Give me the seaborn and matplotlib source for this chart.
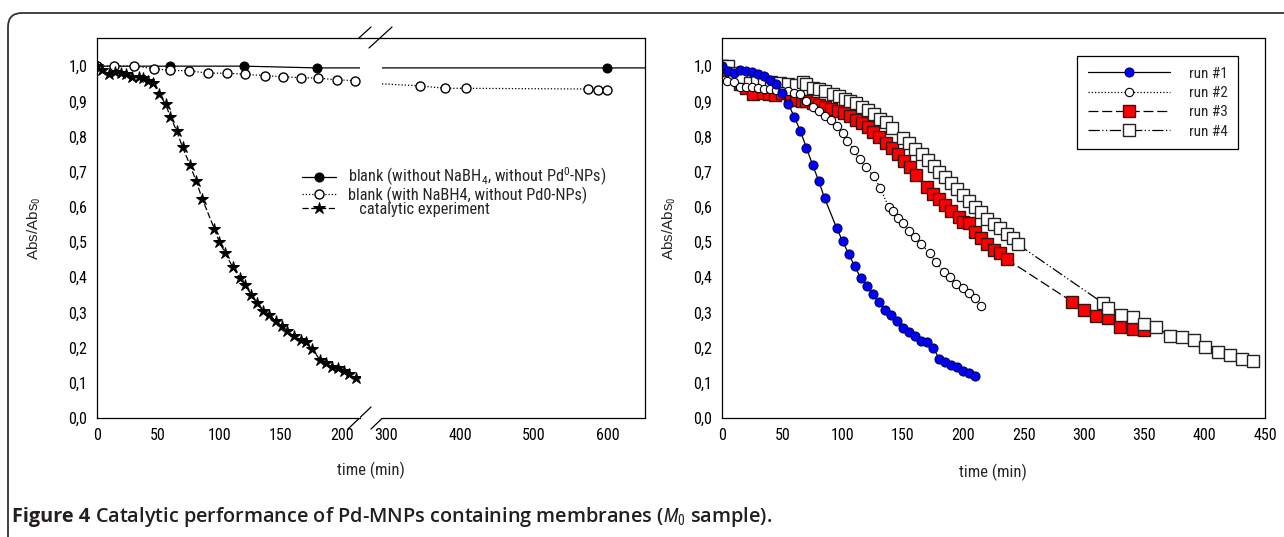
import matplotlib
matplotlib.use("Agg")
import matplotlib.pyplot as plt
import seaborn as sns
from matplotlib.ticker import FuncFormatter, MultipleLocator
from matplotlib.patches import FancyBboxPatch
from matplotlib.lines import Line2D

# ---- left panel data (time in min, Abs/Abs0) ----
blank1_t = [0, 60, 120, 180, 600, 720]
blank1_v = [1.0, 1.0, 1.0, 0.995, 0.995, 0.995]

blank2_t = [0, 14, 30, 47, 60, 75, 91, 106, 121, 137, 152, 167, 181, 196, 211,
            345, 380, 408, 573, 587, 600]
blank2_v = [1.0, 1.0, 1.0, 0.993, 0.988, 0.987, 0.98, 0.98, 0.977, 0.973, 0.97,
            0.967, 0.966, 0.961, 0.959, 0.944, 0.937, 0.937, 0.935, 0.933, 0.933]

cat_t = [0, 4, 10, 15, 20, 24, 29, 34, 38, 42, 46, 51, 56, 60, 65, 70, 76, 81, 86,
         96, 100, 105, 111, 117, 121, 126, 131, 136, 141, 146, 151, 155, 161, 167,
         171, 176, 182, 187, 192, 197, 202, 206, 212]
cat_v = [1.0, 0.988, 0.979, 0.984, 0.981, 0.979, 0.970, 0.968, 0.965, 0.958, 0.951,
         0.921, 0.892, 0.856, 0.817, 0.769, 0.719, 0.674, 0.623, 0.537, 0.500, 0.468,
         0.428, 0.397, 0.377, 0.351, 0.326, 0.305, 0.294, 0.275, 0.261, 0.247, 0.233,
         0.221, 0.217, 0.196, 0.166, 0.155, 0.145, 0.143, 0.133, 0.125, 0.113]

# ---- right panel data: four runs ----
run1_t = [0, 5, 10, 15, 20, 25, 30, 35, 40, 45, 50, 55, 60, 65, 70, 75, 80, 85,
          95, 100, 105, 110, 115, 120, 125, 130, 135, 140, 145, 150, 155, 160, 165,
          170, 175, 180, 185, 190, 195, 200, 205, 210]
run1_v = [1.0, 0.985, 0.98, 0.99, 0.985, 0.982, 0.977, 0.972, 0.962, 0.95, 0.925,
          0.892, 0.855, 0.815, 0.768, 0.72, 0.675, 0.625, 0.54, 0.502, 0.466, 0.431,
          0.398, 0.376, 0.352, 0.329, 0.308, 0.294, 0.277, 0.257, 0.245, 0.234, 0.218,
          0.215, 0.199, 0.169, 0.16, 0.151, 0.144, 0.135, 0.128, 0.118]

run2_t = [0, 4, 10, 15, 20, 25, 30, 35, 40, 45, 50, 55, 60, 65, 70, 75, 80, 85, 90,
          95, 100, 104, 109, 114, 119, 126, 131, 138, 142, 146, 150, 155, 160, 165,
          172, 177, 184, 189, 194, 200, 205, 210, 215]
run2_v = [1.0, 0.957, 0.954, 0.94, 0.942, 0.94, 0.937, 0.935, 0.935, 0.932, 0.93,
          0.928, 0.925, 0.922, 0.901, 0.885, 0.872, 0.857, 0.846, 0.829, 0.809, 0.786,
          0.763, 0.735, 0.712, 0.687, 0.654, 0.601, 0.588, 0.569, 0.555, 0.532, 0.514,
          0.495, 0.468, 0.442, 0.414, 0.40, 0.381, 0.369, 0.354, 0.34, 0.319]

run3_t = [0, 3, 15, 20, 26, 34, 39, 44, 50, 56, 61, 66, 70, 75, 80, 85, 90, 96, 101,
          106, 111, 116, 121, 125, 130, 136, 141, 146, 151, 156, 161, 170, 175, 180,
          185, 190, 196, 200, 205, 210, 215, 220, 225, 230, 236, 290, 300, 310, 320,
          330, 341, 350]
run3_v = [1.0, 0.989, 0.949, 0.938, 0.922, 0.924, 0.92, 0.918, 0.924, 0.912, 0.903,
          0.901, 0.9, 0.894, 0.889, 0.885, 0.878, 0.872, 0.866, 0.857, 0.848, 0.839,
          0.827, 0.814, 0.798, 0.783, 0.768, 0.749, 0.731, 0.712, 0.691, 0.657, 0.638,
          0.623, 0.606, 0.588, 0.571, 0.558, 0.555, 0.53, 0.512, 0.494, 0.477, 0.468,
          0.451, 0.331, 0.307, 0.291, 0.284, 0.259, 0.254, 0.249]

run4_t = [0, 5, 10, 16, 23, 29, 35, 41, 48, 55, 61, 67, 70, 75, 80, 85, 92, 97, 102,
          106, 111, 116, 121, 126, 131, 136, 141, 150, 155, 160, 166, 171, 176, 180,
          185, 190, 195, 200, 205, 210, 215, 220, 225, 230, 236, 241, 245, 316, 320,
          331, 341, 350, 360, 371, 381, 391, 400, 411, 421, 431, 440]
run4_v = [1.0, 1.0, 0.98, 0.97, 0.952, 0.954, 0.955, 0.955, 0.952, 0.949, 0.947,
          0.955, 0.949, 0.938, 0.934, 0.929, 0.92, 0.915, 0.908, 0.901, 0.894, 0.885,
          0.874, 0.863, 0.851, 0.841, 0.823, 0.795, 0.781, 0.765, 0.749, 0.733, 0.717,
          0.70, 0.684, 0.669, 0.652, 0.634, 0.617, 0.601, 0.586, 0.565, 0.551, 0.54,
          0.523, 0.512, 0.494, 0.326, 0.314, 0.292, 0.286, 0.266, 0.259, 0.233, 0.231,
          0.221, 0.203, 0.189, 0.178, 0.169, 0.161]

left_labels = ["blank (without NaBH$_4$, without Pd$^0$-NPs)",
               "blank (with NaBH4, without Pd0-NPs)",
               "   catalytic experiment"]
run_labels = ["run #1", "run #2", "run #3", "run #4"]

sns.set_style("white")
NARROW = ["Roboto Condensed", "DejaVu Sans"]
plt.rcParams["font.family"] = NARROW
plt.rcParams["mathtext.fontset"] = "custom"
plt.rcParams["mathtext.rm"] = "Roboto Condensed"
plt.rcParams["mathtext.it"] = "Roboto Condensed:italic"

W, H = 1284, 537
fig = plt.figure(figsize=(W / 100, H / 100), dpi=100)


def box(l, t, r, b):
    # pixel box -> figure fraction
    return [l / W, 1 - b / H, (r - l) / W, (b - t) / H]


# background frame (pixel coords)
bg = fig.add_axes([0, 0, 1, 1], zorder=-5)
bg.set_xlim(0, W)
bg.set_ylim(H, 0)
bg.axis("off")
bg.add_patch(FancyBboxPatch((8, 13), 1500, 700, boxstyle="round,pad=0,rounding_size=14",
                            lw=1.3, ec="#333333", fc="none"))

ax1 = fig.add_axes(box(97, 38, 360, 418))
ax2 = fig.add_axes(box(382, 38, 645, 418))
ax3 = fig.add_axes(box(722, 38, 1265, 418))


def draw(ax, t, v, label=None, **kw):
    sns.lineplot(x=t, y=v, ax=ax, estimator=None, sort=False, color="k",
                 linewidth=0.9, label=label, legend=False, **kw)


dot = (0, (1, 1.6))
for ax in (ax1, ax2):
    draw(ax, blank1_t, blank1_v, label=left_labels[0], marker="o", markersize=6.5,
         markerfacecolor="k", markeredgecolor="k", linestyle="-")
    draw(ax, blank2_t, blank2_v, label=left_labels[1], marker="o", markersize=6.5,
         markerfacecolor="w", markeredgecolor="k", markeredgewidth=1, linestyle=dot)
draw(ax1, cat_t, cat_v, label=left_labels[2], marker="*", markersize=9,
     markerfacecolor="k", markeredgecolor="k", linestyle=(0, (5, 2)))

draw(ax3, run3_t, run3_v, label=run_labels[2], marker="s", markersize=8.5,
     markerfacecolor="#ff0000", markeredgecolor="#3a1010", markeredgewidth=1,
     linestyle=(0, (8, 3)))
draw(ax3, run4_t, run4_v, label=run_labels[3], marker="s", markersize=9,
     markerfacecolor="w", markeredgecolor="#222222", markeredgewidth=1,
     linestyle=(0, (9, 2, 1, 2, 1, 2)))
draw(ax3, run2_t, run2_v, label=run_labels[1], marker="o", markersize=6,
     markerfacecolor="w", markeredgecolor="k", markeredgewidth=0.8, linestyle=dot)
draw(ax3, run1_t, run1_v, label=run_labels[0], marker="o", markersize=6.5,
     markerfacecolor="#0000ff", markeredgecolor="#000060", markeredgewidth=0.8,
     linestyle="-")

comma = FuncFormatter(lambda v, p: f"{v:.1f}".replace(".", ","))
for ax in (ax1, ax2, ax3):
    ax.set_ylim(0, 1.08)
    ax.set_xlabel("")
    ax.set_ylabel("")
    for s in ax.spines.values():
        s.set_color("k")
        s.set_linewidth(0.9)
    ax.tick_params(direction="out", length=4, width=0.8, labelsize=11.5, pad=3,
                   colors="k")
    ax.yaxis.set_major_locator(MultipleLocator(0.1))
    ax.yaxis.set_major_formatter(comma)

ax1.set_xlim(0, 215)
ax1.set_xticks([0, 50, 100, 150, 200])
ax1.spines["right"].set_visible(False)
ax2.set_xlim(294, 651)
ax2.set_xticks([300, 400, 500, 600])
ax2.spines["left"].set_visible(False)
ax2.tick_params(axis="y", left=False, labelleft=False)
ax3.set_xlim(0, 450)
ax3.xaxis.set_major_locator(MultipleLocator(50))

# axis break marks and bridging top spine
for (x0, y0, x1, y1) in [(348, 48, 371, 27), (369, 48, 392, 27),
                         (348, 429, 371, 407), (371, 429, 394, 407), (360, 38, 382, 38)]:
    bg.add_line(Line2D([x0, x1], [y0, y1], color="k", lw=0.9))

ylab_font = dict(family=["Liberation Sans", "DejaVu Sans"], size=11)
ax1.set_ylabel("Abs/Abs$_0$", **ylab_font)
ax1.yaxis.set_label_coords((43 - 97) / 263, 0.5)
ax3.set_ylabel("Abs/Abs$_0$", **ylab_font)
ax3.yaxis.set_label_coords((678 - 722) / 543, 0.5)
fig.text(371 / W, 1 - 470 / H, "time (min)", ha="center", va="center", size=12)
fig.text(993 / W, 1 - 472 / H, "time (min)", ha="center", va="center", size=12)

# legends
h, l = ax1.get_legend_handles_labels()
fig.legend(h[:2] + h[-1:], l[:2] + l[-1:], loc="upper left",
           bbox_to_anchor=(302 / W, 1 - 166 / H), frameon=False, borderpad=0,
           borderaxespad=0, handlelength=2.1, handletextpad=0.7, labelspacing=-0.12,
           numpoints=1, fontsize=11.8)

h3, l3 = ax3.get_legend_handles_labels()
order = [l3.index(n) for n in run_labels]
leg = fig.legend([h3[i] for i in order], run_labels, loc="upper left",
                 bbox_to_anchor=(1077 / W, 1 - 56 / H), borderaxespad=0,
                 borderpad=0.7, handlelength=5.4, handletextpad=1.2,
                 labelspacing=0.35, numpoints=1, fontsize=11, fancybox=False,
                 framealpha=1, edgecolor="k")
leg.get_frame().set_linewidth(0.9)

# caption
cap = dict(family=["Open Sans", "DejaVu Sans"], size=14.3, color="#231f20")
t1 = fig.text(12 / W, 1 - 517 / H, "Figure 4", weight="bold", va="center", **cap)
fig.canvas.draw()
bb = t1.get_window_extent()
fig.text((bb.x1 + 5) / W, 1 - 517 / H,
         "Catalytic performance of Pd-MNPs containing membranes ($\\mathit{M}_0$ sample).",
         weight="semibold", va="center", **cap)

fig.savefig("out.png", dpi=100)
